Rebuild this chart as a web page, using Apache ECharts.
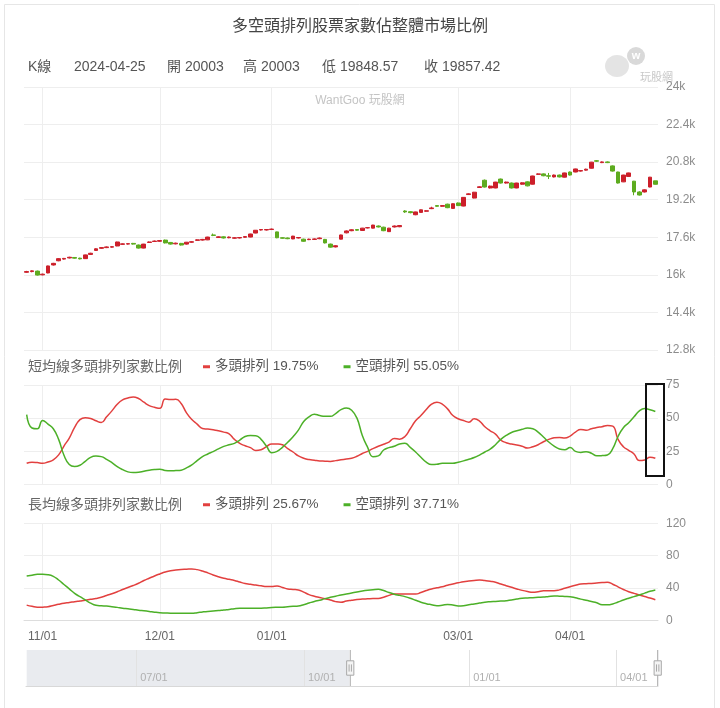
<!DOCTYPE html>
<html><head><meta charset="utf-8">
<script src="https://cdn.jsdelivr.net/npm/echarts@6/dist/echarts.min.js"></script>
<style>html,body{margin:0;padding:0;background:#fff}#c{width:720px;height:708px}</style>
</head><body><div id="c"></div>
<script>
// Trading days (TWSE) per month: categories of the full data range
const tradingMonths = [
  ['2023-05', [2,3,4,5,8,9,10,11,12,15,16,17,18,19,22,23,24,25,26,29,30,31]],
  ['2023-06', [1,2,5,6,7,8,9,12,13,14,15,16,19,20,21,26,27,28,29,30]],
  ['2023-07', [3,4,5,6,7,10,11,12,13,14,17,18,19,20,21,24,25,26,27,28,31]],
  ['2023-08', [1,2,3,4,7,8,9,10,11,14,15,16,17,18,21,22,23,24,25,28,29,30,31]],
  ['2023-09', [1,4,5,6,7,8,11,12,13,14,15,18,19,20,21,22,25,26,27,28]],
  ['2023-10', [2,3,4,5,6,11,12,13,16,17,18,19,20,23,24,25,26,27,30,31]],
  ['2023-11', [1,2,3,6,7,8,9,10,13,14,15,16,17,20,21,22,23,24,27,28,29,30]],
  ['2023-12', [1,4,5,6,7,8,11,12,13,14,15,18,19,20,21,22,25,26,27,28,29]],
  ['2024-01', [2,3,4,5,8,9,10,11,12,15,16,17,18,19,22,23,24,25,26,29,30,31]],
  ['2024-02', [1,2,5,15,16,19,20,21,22,23,26,27,29]],
  ['2024-03', [1,4,5,6,7,8,11,12,13,14,15,18,19,20,21,22,25,26,27,28,29]],
  ['2024-04', [1,2,3,8,9,10,11,12,15,16,17,18,19,22,23,24,25]]
];
const windowStartDate = '2023-10-27';
const mainTickDates = ['2023-11-01','2023-12-01','2024-01-02','2024-03-01','2024-04-01'];
const sliderTickDates = ['2023-07-03','2023-10-02','2024-01-02','2024-04-01'];
const priceMin = 12800, priceMax = 24000, priceInterval = 1600;

// K line from 2023-10-27 : [open, close, low, high]
const kline = [
[16110,16140,16090,16170],[16140,16170,16110,16190],[16160,15990,15970,16180],[16000,16030,15980,16050],[16080,16380,16070,16390],
[16420,16490,16400,16510],[16600,16690,16580,16710],[16670,16700,16650,16720],[16720,16750,16700,16770],[16740,16710,16690,16760],
[16710,16680,16660,16730],[16690,16850,16680,16860],[16870,16920,16850,16940],[17040,17110,17020,17130],[17130,17160,17110,17180],
[17160,17190,17140,17210],[17180,17200,17160,17220],[17230,17400,17220,17410],[17300,17320,17280,17340],[17310,17330,17290,17350],
[17340,17310,17290,17360],[17270,17140,17120,17290],[17140,17310,17130,17320],[17380,17400,17360,17420],[17420,17440,17400,17460],
[17430,17460,17410,17480],[17480,17360,17340,17500],[17380,17310,17290,17400],[17320,17350,17300,17370],[17340,17270,17250,17360],
[17310,17390,17290,17400],[17390,17410,17370,17430],[17470,17490,17450,17510],[17480,17510,17460,17530],[17490,17610,17480,17620],
[17700,17680,17650,17760],[17590,17620,17570,17640],[17620,17570,17550,17640],[17580,17610,17560,17630],[17560,17580,17540,17600],
[17570,17590,17550,17610],[17600,17630,17580,17650],[17610,17740,17600,17750],[17780,17900,17770,17910],[17910,17930,17890,17950],
[17910,17930,17890,17950],[17930,17950,17910,17970],[17830,17580,17560,17840],[17580,17560,17540,17600],[17570,17540,17520,17590],
[17530,17650,17520,17660],[17570,17590,17550,17610],[17520,17430,17410,17540],[17500,17520,17480,17540],[17510,17530,17490,17550],
[17540,17570,17520,17590],[17510,17360,17340,17530],[17310,17180,17160,17330],[17190,17240,17170,17260],[17520,17700,17510,17710],
[17790,17870,17770,17890],[17880,17920,17860,17940],[17930,17900,17880,17950],[17890,17990,17880,18000],[18000,18010,17980,18030],
[17990,18120,17980,18130],[18080,18040,18020,18100],[18030,17880,17860,18050],[17840,17990,17830,18000],[18040,18080,18020,18100],
[18050,18100,18030,18120],[18720,18680,18640,18750],[18690,18650,18620,18710],[18560,18680,18540,18690],[18660,18770,18650,18780],
[18710,18730,18690,18750],[18820,18850,18800,18900],[18950,18920,18900,18970],[18920,18950,18900,18970],[19010,18860,18840,19030],
[18830,19030,18820,19040],[19060,18950,18930,19080],[18930,19300,18920,19310],[19420,19450,19400,19470],[19270,19520,19260,19530],
[19720,19750,19700,19770],[20030,19740,19720,20060],[19700,19780,19680,19800],[19700,19950,19690,19960],[20080,19910,19890,20100],
[19910,19950,19890,19970],[19910,19700,19680,19930],[19700,19910,19690,19920],[19860,19920,19840,19940],[19960,19790,19770,19980],
[19860,20210,19850,20220],[20280,20300,20260,20320],[20300,20220,20200,20320],[20220,20200,20080,20340],[20170,20250,20150,20270],
[20250,20170,20150,20270],[20160,20340,20150,20350],[20380,20250,20230,20400],[20380,20510,20370,20520],[20420,20440,20400,20460],
[20460,20500,20440,20520],[20540,20800,20530,20810],[20860,20840,20810,20890],[20780,20810,20760,20830],[20810,20780,20760,20830],
[20640,20420,20400,20660],[20380,19910,19890,20390],[19960,20250,19950,20260],[20190,20340,20180,20350],[19990,19530,19390,20000],
[19530,19400,19380,19560],[19530,19620,19510,19640],[19740,20160,19730,20170],[20003,19857.42,19848.57,20003]
];

// 短均線 多頭/空頭 排列 (%)
const shortBull = [16,16.8,16.5,16,17,18.6,22.3,29,35,43,
 48.9,50.4,49.8,48,46.8,51,55.5,60.5,63.8,65.2,
 66,64.8,62,59.5,58.2,57.4,64.5,64,64.3,61,
 54,49,45.5,42.2,41.8,41.3,40.5,39.5,38.2,34,
 31,29.2,27.8,25.6,26.2,28.5,30.6,30.5,29.9,27,
 24.5,21.5,19.8,18.8,18.3,17.8,17.6,17.4,18,18.7,
 19.3,19.8,21.3,23.4,25,27,28.8,30.3,32,34.6,
 34.2,36.2,42,48,52,56.5,60.6,62,60.6,57,
 52,49.6,48.2,47,49.5,47.8,43.5,40.5,38,33.5,
 31.5,30.5,29.8,28.8,27.5,28.5,30,32.2,34,35.2,
 35.5,35,36.5,39.5,41.5,40.9,42,43,43.6,44.5,
 44,34,28.5,25.8,23,18,18.5,20.6,19.75];
const shortBear = [52.7,42.6,42,48.3,45.5,42,34,22,15,13.5,
 14.5,17.5,20.5,21.4,21,19,16.5,13.5,11.2,9.5,
 9,9.2,10,10.8,11.3,11.5,10.6,10.3,10.5,10.8,
 12.5,14.8,18,21,23,24.8,26.8,28.7,29.9,31,
 33.5,36.2,37,36.8,34,29,24,25,28,31.8,
 36,41,47.5,51,53,52,51.4,51.4,53.5,56.4,
 57.7,56,50,37,28,21,21.6,26,27.8,28.8,
 30.5,31,28,24.5,20.5,16.8,15,15.2,16,16,
 16,16.8,17.8,19,20.3,22.2,24.5,26.7,30,34,
 37,39.2,40.5,41.6,42.6,42,39.5,35.8,32,29,
 26.8,26.2,27.9,25,24.2,24.7,23.6,21.6,21.8,22.3,
 27,36.2,42.8,46.5,51,55.5,57.2,56.4,55.05];
// 長均線 多頭/空頭 排列 (%)
const longBull = [19,17.5,16.3,16.5,17,18.5,20,21.3,22.2,23.2,
 24.1,25,26.2,27.2,28.6,30.8,33,35.5,38.2,40.8,
 43.2,46,49.4,52.2,55,57.5,59.8,61.5,62.4,63,
 63.3,63.6,62.8,61.1,58.8,56.2,54,52.1,50.8,49.5,
 47.5,45.7,44.8,43.7,43,41.9,42,42.6,40.8,38.9,
 38.3,37.7,35,32,30,28.4,26.8,25.2,23.3,22.5,
 24,25,26,26.5,26.8,27.1,27.3,28.8,31,32.7,
 32.7,32.7,32.7,32.7,34.5,37,39,40.3,41.6,43.5,
 45,46.5,47.9,48.8,49.5,50,49.3,48.4,47.2,45,
 43,41,39,37.2,35.8,34.8,35.5,36.8,36.8,36.8,
 37.8,39.8,41.7,43.5,45.1,45.5,45.8,46.3,46.8,47.2,
 44.8,41.5,38.3,35.5,33.5,31.5,29.6,27.8,25.67];
const longBear = [55,56,57,57,56.5,54.5,50,44.5,39,33.5,
 29.4,25.5,21.5,18.8,18.1,17.8,17.1,16.2,15.2,14.5,
 13.7,12.7,12,11.2,10.3,9.6,9.3,9,8.9,8.9,
 8.9,8.9,9.6,10.5,11.2,11.6,12.2,13,13.7,14.5,
 15,15.1,15.1,15.1,15.1,15.5,16,16.3,16.5,17,
 17.5,17.9,19.5,21.5,23.5,25,27,28.6,30,31.5,
 32.7,34,35.3,36.4,37.3,38,38.5,37,34.5,32.5,
 31,29.5,27.5,25,22.6,20.8,19.5,18.3,18.8,19.8,
 19.2,18,18.3,19.5,20.4,21.5,22.6,23.2,23.6,24,
 24.4,25.2,26.5,27.4,27.8,28.2,28.6,29,29.7,30.2,
 30,29.7,29.4,28,26.4,25,23.5,22,19.5,19.4,
 20.4,22.8,25.3,27.5,29.5,31.5,33.8,36,37.71];

const dates = tradingMonths.flatMap(([m, days]) => days.map(d => m + '-' + String(d).padStart(2, '0')));
const startIdx = dates.indexOf(windowStartDate);
const visDates = dates.slice(startIdx);
const pairs = arr => arr.map((v, i) => [visDates[i], v]);
const klineData = kline.map((r, i) => [visDates[i]].concat(r));

const UP = '#cc1f2a', DOWN = '#5dab1f';
const RED = '#e2403f', GREEN = '#4cb028';
const FONT = '"Liberation Sans", "Noto Sans CJK TC", sans-serif';
const last = kline[kline.length - 1];
const lastDate = visDates[visDates.length - 1];
const pct = arr => arr[arr.length - 1].toFixed(2) + '%';
const legendText = {
  sBull: '多頭排列 ' + pct(shortBull), sBear: '空頭排列 ' + pct(shortBear),
  lBull: '多頭排列 ' + pct(longBull), lBear: '空頭排列 ' + pct(longBear)
};
const mmLabel = v => v.slice(5, 7) + '/01';
const isMainTick = (i, v) => mainTickDates.indexOf(v) >= 0;
const isSliderTick = (i, v) => sliderTickDates.indexOf(v) >= 0;
const gridColor = '#eeeeee';

function mainX(gridIndex, showLabel) {
  return {
    type: 'category', gridIndex: gridIndex, data: dates, boundaryGap: true,
    axisLine: {show: showLabel, lineStyle: {color: '#dddddd'}},
    axisTick: {show: false},
    axisLabel: {show: showLabel, interval: isMainTick, formatter: mmLabel, color: '#666', fontSize: 12, margin: 10, fontFamily: FONT},
    splitLine: {show: true, interval: isMainTick, alignWithLabel: true, lineStyle: {color: gridColor}}
  };
}
function rightY(gridIndex, min, max, interval, fmt) {
  return {
    type: 'value', gridIndex: gridIndex, position: 'right', min: min, max: max, interval: interval,
    axisLine: {show: false}, axisTick: {show: false},
    axisLabel: {color: '#8c8c8c', fontSize: 12, fontFamily: FONT, formatter: fmt},
    splitLine: {lineStyle: {color: gridColor}}
  };
}

const chart = echarts.init(document.getElementById('c'), null, {renderer: 'canvas'});
chart.setOption({
  animation: false,
  backgroundColor: '#fff',
  textStyle: {fontFamily: FONT},
  title: [
    {text: '多空頭排列股票家數佔整體市場比例', left: 'center', top: 19, padding: 0,
     textStyle: {fontSize: 16, fontWeight: 'normal', color: '#444', fontFamily: FONT}},
    {text: '短均線多頭排列家數比例', left: 28, top: 360, padding: 0,
     textStyle: {fontSize: 14, fontWeight: 'normal', color: '#666', fontFamily: FONT}},
    {text: '長均線多頭排列家數比例', left: 28, top: 498, padding: 0,
     textStyle: {fontSize: 14, fontWeight: 'normal', color: '#666', fontFamily: FONT}}
  ],
  legend: [
    {data: ['sBull', 'sBear'], left: 203, top: 360, padding: 0, itemGap: 25, icon: 'rect', itemWidth: 7, itemHeight: 3,
     formatter: n => legendText[n], textStyle: {color: '#555', fontSize: 13.5, fontFamily: FONT}, selectedMode: false},
    {data: ['lBull', 'lBear'], left: 203, top: 498, padding: 0, itemGap: 25, icon: 'rect', itemWidth: 7, itemHeight: 3,
     formatter: n => legendText[n], textStyle: {color: '#555', fontSize: 13.5, fontFamily: FONT}, selectedMode: false}
  ],
  grid: [
    {left: 24, right: 62, top: 87, height: 263},
    {left: 24, right: 62, top: 385, height: 99.5},
    {left: 24, right: 62, top: 523.3, height: 97.2},
    {left: 26, right: 62, top: 650, height: 36}
  ],
  xAxis: [
    mainX(0, false), mainX(1, false), mainX(2, true),
    {type: 'category', gridIndex: 3, data: dates, boundaryGap: false, z: 10,
     axisLine: {show: true, lineStyle: {color: '#d8d8d8'}}, axisTick: {show: false},
     axisLabel: {inside: true, interval: isSliderTick, formatter: mmLabel, align: 'left', verticalAlign: 'bottom',
                 padding: [0, 0, 0, 4], margin: 3, color: '#b0b0b0', fontSize: 11, fontFamily: FONT},
     splitLine: {show: true, interval: isSliderTick, lineStyle: {color: '#e2e2e2'}}}
  ],
  yAxis: [
    rightY(0, priceMin, priceMax, priceInterval, v => (v / 1000) + 'k'),
    rightY(1, 0, 75, 25),
    rightY(2, 0, 120, 40),
    {type: 'value', gridIndex: 3, show: false}
  ],
  dataZoom: [{
    type: 'slider', xAxisIndex: [0, 1, 2], startValue: windowStartDate, endValue: lastDate,
    left: 26, right: 62, top: 650, height: 36, z: 2,
    showDetail: false, showDataShadow: false, brushSelect: false, moveHandleSize: 0,
    backgroundColor: '#e9ebef', fillerColor: '#ffffff', borderColor: 'transparent',
    handleIcon: 'path://M5,0L5,12M1,12L9,12L9,28L1,28ZM5,28L5,40M3.7,16L3.7,24M6.3,16L6.3,24',
    handleSize: '100%',
    handleStyle: {color: '#f4f4f4', borderColor: '#a8a8a8', borderWidth: 1},
    filterMode: 'filter'
  }],
  graphic: [
    {type: 'rect', silent: true, shape: {x: 4.5, y: 4.5, width: 710, height: 730},
     style: {fill: 'none', stroke: '#e6e6e6', lineWidth: 1}},
    {type: 'text', x: 28, y: 67, silent: true, style: {text: 'K線', fill: '#555', fontSize: 14, fontFamily: FONT, verticalAlign: 'middle'}},
    {type: 'text', x: 74, y: 67, silent: true, style: {text: lastDate, fill: '#555', fontSize: 14, fontFamily: FONT, verticalAlign: 'middle'}},
    {type: 'text', x: 167, y: 67, silent: true, style: {text: '開 ' + last[0], fill: '#555', fontSize: 14, fontFamily: FONT, verticalAlign: 'middle'}},
    {type: 'text', x: 243, y: 67, silent: true, style: {text: '高 ' + last[3], fill: '#555', fontSize: 14, fontFamily: FONT, verticalAlign: 'middle'}},
    {type: 'text', x: 322, y: 67, silent: true, style: {text: '低 ' + last[2], fill: '#555', fontSize: 14, fontFamily: FONT, verticalAlign: 'middle'}},
    {type: 'text', x: 424, y: 67, silent: true, style: {text: '收 ' + last[1], fill: '#555', fontSize: 14, fontFamily: FONT, verticalAlign: 'middle'}},
    {type: 'text', x: 360, y: 101, silent: true, style: {text: 'WantGoo 玩股網', fill: '#c4c4c4', fontSize: 12, fontFamily: FONT, align: 'center', verticalAlign: 'middle'}},
    // faint logo
    {type: 'ellipse', silent: true, shape: {cx: 617, cy: 66, rx: 12, ry: 11}, style: {fill: '#e4e4e4'}},
    {type: 'circle', silent: true, shape: {cx: 636, cy: 56, r: 9}, style: {fill: '#d9d9d9'}},
    {type: 'text', x: 636, y: 56, silent: true, style: {text: 'w', fill: '#fff', fontSize: 11, fontWeight: 'bold', fontFamily: FONT, align: 'center', verticalAlign: 'middle'}},
    {type: 'text', x: 640, y: 78, silent: true, style: {text: '玩股網', fill: '#c8c8c8', fontSize: 11, fontFamily: FONT, verticalAlign: 'middle'}},
    // highlight box
    {type: 'rect', silent: true, z: 100, shape: {x: 646, y: 384, width: 18, height: 92},
     style: {fill: 'none', stroke: '#111', lineWidth: 2}}
  ],
  series: [
    {type: 'candlestick', name: 'K線', xAxisIndex: 0, yAxisIndex: 0, data: klineData,
     encode: {x: 0, y: [1, 2, 3, 4]}, barWidth: '80%',
     itemStyle: {color: UP, color0: DOWN, borderColor: UP, borderColor0: DOWN, borderWidth: 1}},
    {type: 'line', name: 'sBull', xAxisIndex: 1, yAxisIndex: 1, data: pairs(shortBull), symbol: 'none', smooth: true,
     lineStyle: {width: 1.5, color: RED}, itemStyle: {color: RED}},
    {type: 'line', name: 'sBear', xAxisIndex: 1, yAxisIndex: 1, data: pairs(shortBear), symbol: 'none', smooth: true,
     lineStyle: {width: 1.5, color: GREEN}, itemStyle: {color: GREEN}},
    {type: 'line', name: 'lBull', xAxisIndex: 2, yAxisIndex: 2, data: pairs(longBull), symbol: 'none', smooth: true,
     lineStyle: {width: 1.5, color: RED}, itemStyle: {color: RED}},
    {type: 'line', name: 'lBear', xAxisIndex: 2, yAxisIndex: 2, data: pairs(longBear), symbol: 'none', smooth: true,
     lineStyle: {width: 1.5, color: GREEN}, itemStyle: {color: GREEN}}
  ]
});
</script></body></html>
